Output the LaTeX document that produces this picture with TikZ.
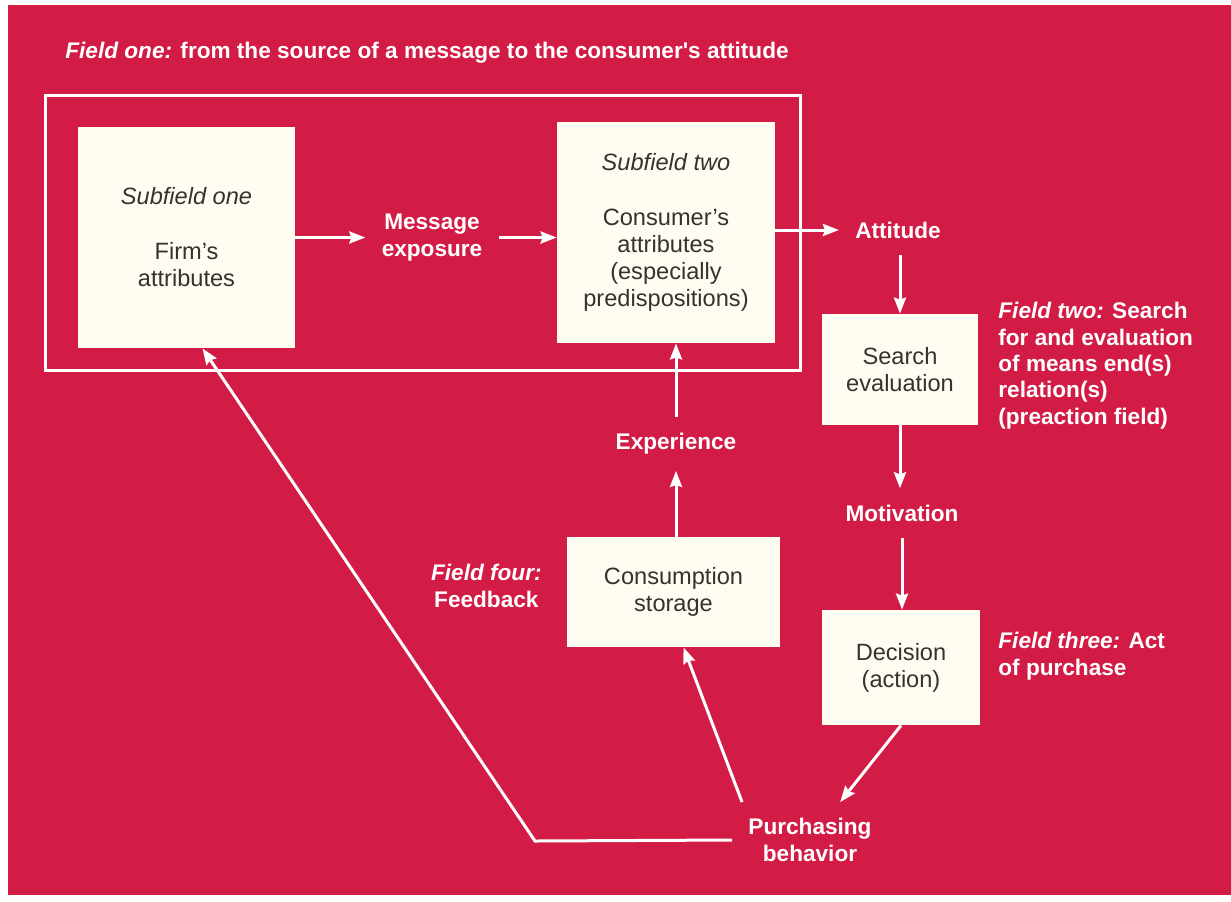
\documentclass[tikz,border=0pt]{standalone}
\usepackage{fontspec}
\setmainfont{Liberation Sans}
\newfontfamily\labfont{Liberation Sans}
\usetikzlibrary{arrows.meta, positioning, calc}
\definecolor{pagered}{RGB}{210,28,70}
\definecolor{boxwhite}{RGB}{255,253,242}
\definecolor{boxtext}{RGB}{55,50,50}

\tikzset{
  block/.style={fill=boxwhite, text=boxtext, align=center, inner sep=0pt,
                font=\fontsize{11.8}{13.5}\selectfont},
  lab/.style={text=white, align=center, inner sep=8pt,
              font=\labfont\bfseries\fontsize{11.3}{13.2}\selectfont},
  note/.style={lab, align=left, inner sep=0pt},
  flow/.style={white, line width=1.5pt, -{Stealth[length=8pt,width=6pt,inset=1pt]}},
}

\begin{document}
\begin{tikzpicture}[x=0.5pt, y=-0.5pt]
\useasboundingbox (0,0) rectangle (1231,901);
\fill[white] (0,0) rectangle (1231,901);
\fill[pagered] (8,5) rectangle (1231,895);

\node[note, anchor=base west] (title) at (65,58) {\textit{Field one:} from the source of a message to the consumer's attitude};
\draw[white, line width=1.5pt] (45,95) rectangle (800,370);

\node[block, minimum width=108.5pt, minimum height=110.5pt] (firm) at (186.5,237.5)
  {\textit{Subfield one}\\[14pt] Firm's\\attributes};
\node[block, minimum width=109pt, minimum height=110.5pt] (cons) at (666,232.5)
  {\textit{Subfield two}\\[14pt] Consumer's\\attributes\\(especially\\predispositions)};
\node[block, minimum width=78pt, minimum height=55.5pt] (search) at (900,369.5) {Search\\evaluation};
\node[block, minimum width=79pt, minimum height=57.5pt] (decision) at (901,667.5) {Decision\\(action)};
\node[block, minimum width=106.5pt, minimum height=55pt] (storage) at (673.5,592) {Consumption\\storage};

\node[lab] (msg) at (432,237.5) {Message\\exposure};
\node[lab] (att) at (898,230) {Attitude};
\node[lab] (mot) at (902,513) {Motivation};
\node[lab] (purch) at (810,840) {Purchasing\\behavior};
\node[lab] (exp) at (676,444) {Experience};

\node[note, anchor=north west] (two) at (998,302)
  {\textit{Field two:} Search\\for and evaluation\\of means end(s)\\relation(s)\\(preaction field)};
\node[note, anchor=north west] (three) at (998,632) {\textit{Field three:} Act\\of purchase};
\node[note, align=center, anchor=east] (four) at (542,586) {\textit{Field four:}\\Feedback};

\coordinate (bend) at (535,841);

\draw[flow] (firm.east |- msg) -- (msg.west);
\draw[flow] (msg.east) -- (msg.east -| cons.west);
\draw[flow] (cons.east |- att) -- (att.west);
\draw[flow] (att.south -| search.north) -- (search.north);
\draw[flow] (search.south) -- (search.south |- mot.north);
\draw[flow] (mot.south) -- (mot.south |- decision.north);
\draw[flow] (decision.south) -- (purch);
\draw[flow] ($(purch.north west)+(10,0)$) -- ($(storage.south)+(10,0)$);
\draw[flow] (exp |- storage.north) -- (exp.south);
\draw[flow] (exp.north) -- (exp |- cons.south);
\draw[flow] (purch.west) -- (bend) -- ($(firm.south)+(16,0)$);
\end{tikzpicture}
\end{document}
